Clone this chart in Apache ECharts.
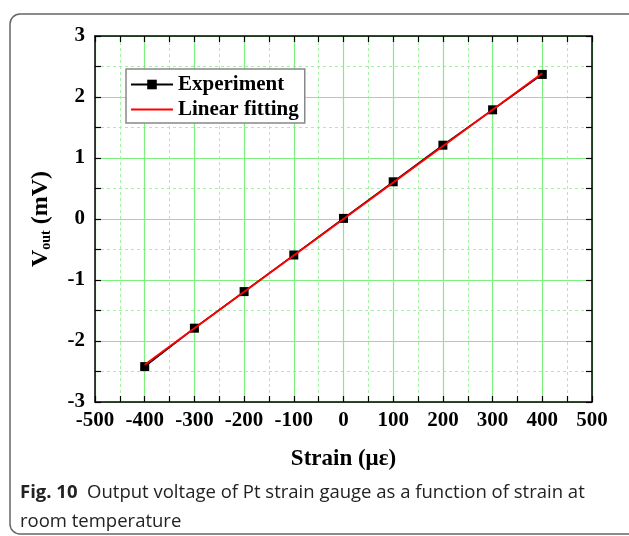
<!DOCTYPE html>
<html>
<head>
<meta charset="utf-8">
<script src="https://cdn.jsdelivr.net/npm/echarts@6/dist/echarts.min.js"></script>
<style>
  html, body { margin: 0; padding: 0; background: #fff; overflow: hidden; }
  #main { width: 629px; height: 536px; }
</style>
</head>
<body>
<div id="main"></div>
<script>
// strain (micro-strain) vs output voltage (mV)
var strain = [-400, -300, -200, -100, 0, 100, 200, 300, 400];
var vout = [-2.42, -1.79, -1.19, -0.59, 0.01, 0.61, 1.21, 1.79, 2.37];
var fitStrain = [-400, 400];
var fitVout = [-2.39, 2.39];

var serif = '"Liberation Serif", "Times New Roman", serif';
var sans = '"Open Sans", "Noto Sans", sans-serif';
var green = '#7ef07e';
var minorGreen = '#a6f0a6';

var chart = echarts.init(document.getElementById('main'));

function pairs(xs, ys) {
    var out = [];
    for (var i = 0; i < xs.length; i++) out.push([xs[i], ys[i]]);
    return out;
}

var xBase = {
    type: 'value', min: -500, max: 500, interval: 100,
    axisLine: { onZero: false, lineStyle: { color: '#000', width: 1.5 } },
    axisTick: { inside: true, length: 6, lineStyle: { color: '#000', width: 1.2 } },
    minorTick: { show: true, splitNumber: 2, length: 6, lineStyle: { color: '#000', width: 1.2 } }
};
var yBase = {
    type: 'value', min: -3, max: 3, interval: 1,
    axisLine: { onZero: false, lineStyle: { color: '#000', width: 1.5 } },
    axisTick: { inside: true, length: 6, lineStyle: { color: '#000', width: 1.2 } },
    minorTick: { show: true, splitNumber: 2, length: 6, lineStyle: { color: '#000', width: 1.2 } }
};

chart.setOption({
    animation: false,
    grid: { left: 95, right: 37, top: 36, bottom: 134 },
    legend: {
        left: 126, top: 69, orient: 'vertical',
        backgroundColor: '#fff', borderColor: '#888', borderWidth: 1.5,
        padding: [5, 6, 3, 4], itemGap: 4, itemWidth: 42, itemHeight: 12,
        textStyle: { fontFamily: serif, fontWeight: 'bold', fontSize: 21, color: '#000' },
        data: [
            { name: 'Experiment' },
            { name: 'Linear fitting', itemStyle: { opacity: 0 } }
        ]
    },
    xAxis: [
        Object.assign({}, xBase, {
            position: 'bottom',
            name: 'Strain (\u03bc\u03b5)', nameLocation: 'middle', nameGap: 46,
            nameTextStyle: { fontFamily: serif, fontWeight: 'bold', fontSize: 23, color: '#000' },
            axisLabel: { margin: 8, fontFamily: serif, fontWeight: 'bold', fontSize: 21, color: '#000' },
            splitLine: { show: true, lineStyle: { color: green, width: 1.2 } },
            minorSplitLine: { show: true, lineStyle: { color: minorGreen, width: 1, type: [3, 3] } }
        }),
        Object.assign({}, xBase, {
            position: 'top', axisLabel: { show: false }, splitLine: { show: false }
        })
    ],
    yAxis: [
        Object.assign({}, yBase, {
            position: 'left',
            name: '{v|V}{s|out}{v| (mV)}', nameLocation: 'middle', nameGap: 42,
            nameTextStyle: {
                fontFamily: serif, fontWeight: 'bold', fontSize: 24, color: '#000',
                rich: {
                    v: { fontFamily: serif, fontWeight: 'bold', fontSize: 24, color: '#000' },
                    s: { fontFamily: serif, fontWeight: 'bold', fontSize: 14, color: '#000', verticalAlign: 'bottom', padding: [9, 0, 0, 0] }
                }
            },
            axisLabel: { margin: 10, fontFamily: serif, fontWeight: 'bold', fontSize: 21, color: '#000' },
            splitLine: { show: true, lineStyle: { color: green, width: 1.2 } },
            minorSplitLine: { show: true, lineStyle: { color: minorGreen, width: 1, type: [3, 3] } }
        }),
        Object.assign({}, yBase, {
            position: 'right', axisLabel: { show: false }, splitLine: { show: false }
        })
    ],
    series: [
        {
            name: 'Experiment', type: 'line', data: pairs(strain, vout),
            symbol: 'rect', symbolSize: 9,
            lineStyle: { color: '#000', width: 1.5 },
            itemStyle: { color: '#000' }, z: 3
        },
        {
            name: 'Linear fitting', type: 'line', data: pairs(fitStrain, fitVout),
            symbol: 'none', lineStyle: { color: '#f00', width: 2 }, itemStyle: { color: '#f00' }, z: 4
        }
    ],
    graphic: [
        {
            type: 'rect', silent: true, z: -1,
            shape: { x: 10, y: 14, width: 640, height: 520, r: 10 },
            style: { fill: 'none', stroke: '#666', lineWidth: 1.5 }
        },
        {
            type: 'text', left: 20, top: 478,
            style: {
                text: '{b|Fig. 10}  Output voltage of Pt strain gauge as a function of strain at\nroom temperature',
                fontFamily: sans, fontSize: 18.5, fill: '#222', lineHeight: 29,
                rich: { b: { fontFamily: sans, fontSize: 18.5, fontWeight: 'bold', fill: '#222' } }
            }
        }
    ]
});
</script>
</body>
</html>
